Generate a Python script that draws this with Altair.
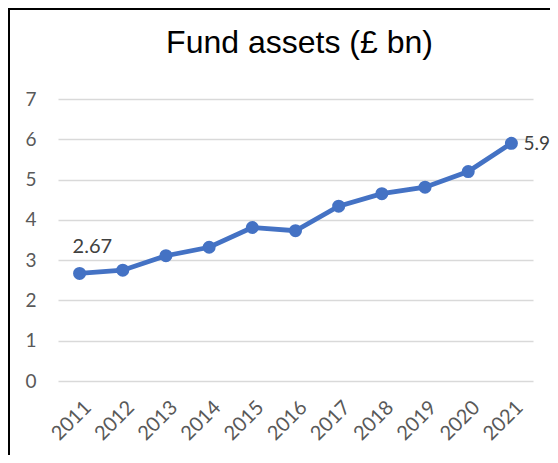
import altair as alt
import pandas as pd

years = ["2011", "2012", "2013", "2014", "2015", "2016", "2017", "2018", "2019", "2020", "2021"]
assets = [2.67, 2.75, 3.11, 3.32, 3.81, 3.73, 4.34, 4.65, 4.81, 5.2, 5.9]
point_labels = ["2.67", "", "", "", "", "", "", "", "", "", "5.9"]
chart_title = ["Fund assets (£ bn)"]

df = pd.DataFrame({"year": years, "assets": assets, "label": point_labels})
title_df = pd.DataFrame({"t": chart_title})

W, H = 475, 282
PL, PT, PR, PB = 50, 91, 17, 74

x_enc = alt.X("year:N", sort=years, title=None,
              scale=alt.Scale(paddingInner=0, paddingOuter=0.5),
              axis=alt.Axis(labelAngle=-45, labelAlign="right", labelBaseline="middle",
                            domain=False, ticks=False, labelPadding=23, labelOffset=8, grid=False,
                            labelFont="Lato", labelFontSize=20, labelColor="#595959"))
y_enc = alt.Y("assets:Q", title=None,
              scale=alt.Scale(domain=[0, 7], nice=False),
              axis=alt.Axis(values=[0, 1, 2, 3, 4, 5, 6, 7], domain=False, ticks=False,
                            labelPadding=22, gridColor="#d9d9d9", gridWidth=1.3,
                            labelFont="Lato", labelFontSize=19, labelColor="#595959"))

base = alt.Chart(df).encode(x=x_enc, y=y_enc)

line = base.mark_line(color="#4472C4", strokeWidth=4.8)
pts = base.mark_point(filled=True, size=170, color="#4472C4", opacity=1)

lab_first = base.transform_filter(alt.datum.year == "2011").mark_text(
    align="left", baseline="middle", dx=-7, dy=-26, font="Lato", fontSize=20, color="#404040"
).encode(text="label:N")
lab_last = base.transform_filter(alt.datum.year == "2021").mark_text(
    align="left", baseline="middle", dx=12, dy=1, font="Lato", fontSize=19, color="#404040"
).encode(text="label:N")

title_mark = alt.Chart(title_df).mark_text(
    align="center", baseline="alphabetic", font="Liberation Sans", fontSize=32, color="#000000"
).encode(text="t:N", x=alt.value(W / 2 + 4), y=alt.value(-46))

frame_left = alt.Chart(title_df).mark_rule(color="black", strokeWidth=2).encode(
    x=alt.value(-PL + 1), y=alt.value(-PT), y2=alt.value(H + PB))
frame_top = alt.Chart(title_df).mark_rule(color="black", strokeWidth=2).encode(
    y=alt.value(-PT + 1), x=alt.value(-PL), x2=alt.value(W + PR))

chart = alt.layer(line, pts, lab_first, lab_last, title_mark, frame_left, frame_top).properties(
    width=W, height=H,
    autosize=alt.AutoSizeParams(type="none"),
    padding={"left": PL, "top": PT, "right": PR, "bottom": PB},
).configure(background="white").configure_view(strokeWidth=0, stroke="transparent")

chart.save("out.html", embed_options={"renderer": "svg", "actions": False})
